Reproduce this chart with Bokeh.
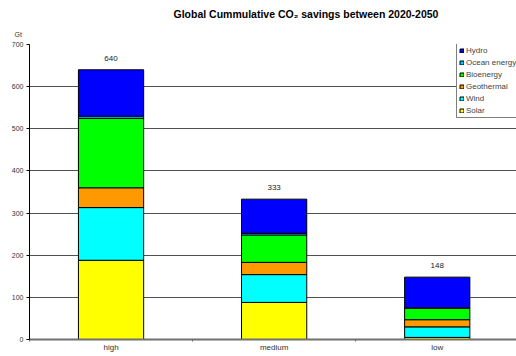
from bokeh.plotting import figure
from bokeh.models import (ColumnDataSource, Range1d, FixedTicker, Legend, LegendItem, Title)
from bokeh.core.properties import value
from bokeh.embed import file_html
from bokeh.resources import INLINE

categories = ["high", "medium", "low"]
solar = [188, 88, 5]
wind = [125, 66, 25]
geothermal = [47, 29, 17]
bioenergy = [165, 65, 28]
ocean = [5, 4, 0]
hydro = [110, 81, 73]
totals = [640, 333, 148]
series_names = ["Solar", "Wind", "Geothermal", "Bioenergy", "Ocean energy", "Hydro"]
series_vals = [solar, wind, geothermal, bioenergy, ocean, hydro]
colors = ["#FFFF00", "#00FFFF", "#FF9900", "#00FF00", "#00CCFF", "#0000FF"]
y_ticks = [0, 100, 200, 300, 400, 500, 600, 700]

FONT = "Liberation Sans"
xs = [i + 0.5 for i in range(len(categories))]
data = {"x": xs}
for n, v in zip(series_names, series_vals):
    data[n] = v
src = ColumnDataSource(data)

p = figure(width=516, height=356, x_range=Range1d(0, 2.986), y_range=Range1d(0, 700),
           output_backend="svg", toolbar_location=None,
           min_border_left=29, min_border_right=0, min_border_top=44, min_border_bottom=17)
p.outline_line_color = None
p.background_fill_color = "white"
p.border_fill_color = "white"

rs = p.vbar_stack(series_names, x="x", width=0.4, source=src, color=colors,
                  line_color="black", line_width=1)

# y axis
p.yaxis.ticker = FixedTicker(ticks=y_ticks)
p.yaxis.axis_line_color = "black"
p.yaxis.major_tick_out = 3
p.yaxis.major_tick_in = 0
p.yaxis.minor_tick_line_color = None
p.yaxis.major_label_text_font = FONT
p.yaxis.major_label_text_font_size = "7px"
p.yaxis.major_label_text_color = "#333333"
p.yaxis.major_label_standoff = 3
p.ygrid.ticker = FixedTicker(ticks=y_ticks)
p.ygrid.grid_line_color = "#505050"
p.ygrid.grid_line_width = 1

# x axis
p.xaxis.ticker = FixedTicker(ticks=xs, minor_ticks=[0, 1, 2, 3])
p.xaxis.major_label_overrides = {x: c for x, c in zip(xs, categories)}
p.xaxis.major_tick_line_color = None
p.xaxis.major_tick_out = 0
p.xaxis.minor_tick_out = 2
p.xaxis.minor_tick_in = 0
p.xaxis.minor_tick_line_color = "#666666"
p.xaxis.axis_line_color = "#707070"
p.xaxis.axis_line_width = 2
p.xaxis.major_label_text_font = FONT
p.xaxis.major_label_text_font_size = "8px"
p.xaxis.major_label_text_color = "#333333"
p.xaxis.major_label_standoff = 1
p.xgrid.grid_line_color = None

# total labels
p.text(x=xs, y=totals, text=[str(t) for t in totals], text_align="center",
       text_baseline="bottom", y_offset=-9, text_font=value(FONT),
       text_font_size="8px", text_color="#222222")

# unit and title
p.add_layout(Title(text="Gt", align="left", offset=-15, text_font=FONT,
                   text_font_size="7px", text_font_style="normal",
                   text_color="#333333", standoff=14), "above")
p.add_layout(Title(text="Global Cummulative CO\u2082 savings between 2020-2050",
                   align="left", offset=144, text_font=FONT, text_font_size="10.5px",
                   text_font_style="bold", text_color="black", standoff=4), "above")

items = [LegendItem(label=n, renderers=[r]) for n, r in zip(series_names, rs)][::-1]
legend = Legend(items=items, location=(427, 221))
legend.label_text_font = FONT
legend.label_text_font_size = "8px"
legend.glyph_width = 5
legend.glyph_height = 5
legend.label_height = 10
legend.label_standoff = 2
legend.spacing = 2
legend.padding = 2
legend.margin = 0
legend.border_line_color = "black"
legend.border_line_width = 1
legend.background_fill_color = "white"
legend.background_fill_alpha = 1
p.add_layout(legend)

open("out.html", "w").write(file_html(p, INLINE))
